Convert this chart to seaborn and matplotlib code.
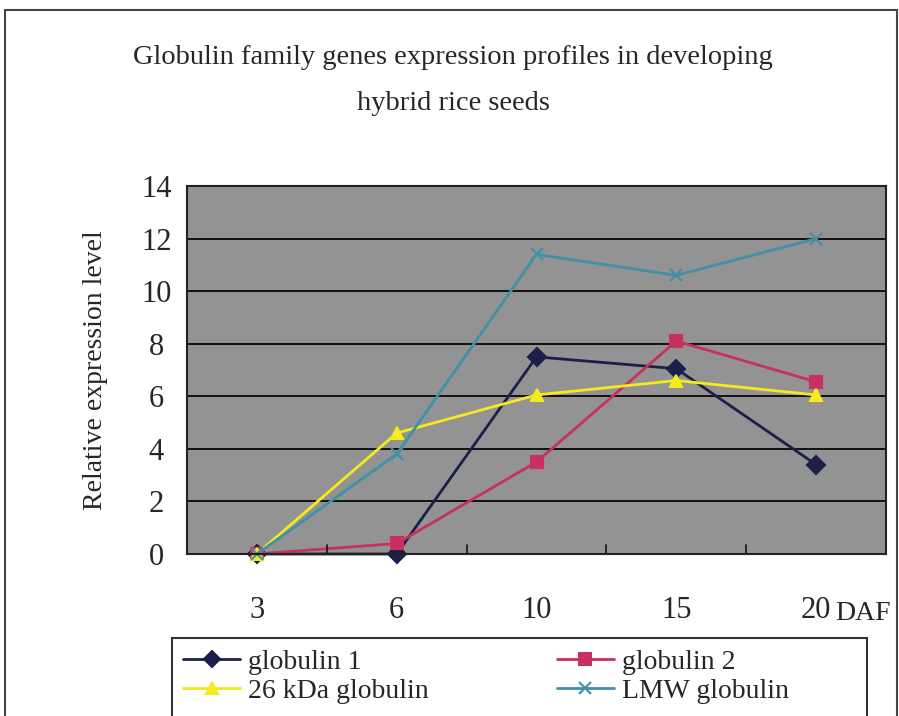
import matplotlib
matplotlib.use("Agg")
import matplotlib.pyplot as plt
import seaborn as sns
import pandas as pd
from matplotlib.lines import Line2D
from matplotlib.patches import Rectangle

# Sampling days (days after flowering)
days = ["3", "6", "10", "15", "20"]

# Relative expression levels per gene
globulin_1 = [0.0, 0.0, 7.5, 7.05, 3.4]
globulin_2 = [0.0, 0.4, 3.5, 8.1, 6.55]
kda26_globulin = [0.0, 4.6, 6.05, 6.6, 6.05]
lmw_globulin = [0.0, 3.8, 11.4, 10.6, 12.0]

series_names = ["globulin 1", "globulin 2", "26 kDa globulin", "LMW globulin"]
series_values = [globulin_1, globulin_2, kda26_globulin, lmw_globulin]
series_colors = ["#1b1f4a", "#c8315f", "#f4ea1c", "#3f90a8"]
series_markers = ["D", "s", "^", "x"]
y_ticks = [0, 2, 4, 6, 8, 10, 12, 14]

sns.set_theme(style="white")
plt.rcParams["font.family"] = ["Liberation Serif", "DejaVu Serif"]

W, H = 899, 716
fig = plt.figure(figsize=(W / 100, H / 100), dpi=100)
ax = fig.add_axes([187 / W, 1 - 554 / H, (886 - 187) / W, (554 - 186) / H])
ax.set_facecolor("#939393")

for name, vals, c, m in zip(series_names, series_values, series_colors, series_markers):
    df = pd.DataFrame({"DAF": days, "level": vals})
    sns.lineplot(data=df, x="DAF", y="level", color=c, marker=m,
                 markersize=9, markeredgecolor=c, markeredgewidth=1.5,
                 linewidth=2.0, sort=False, ax=ax, clip_on=False)

ax.set_xlim(-0.5, 4.5)
ax.set_ylim(0, 14)
ax.set_yticks(y_ticks)
ax.yaxis.grid(True, color="#111111", linewidth=1.4)
ax.set_axisbelow(True)
ax.set_xticks(range(len(days)))
ax.set_xticklabels(days)
ax.tick_params(axis="x", length=0, pad=30, labelsize=22)
ax.tick_params(axis="y", length=0, pad=22, labelsize=22)
for lbl in ax.get_yticklabels():
    lbl.set_horizontalalignment("center")
ax.set_xlabel("")
ax.set_ylabel("Relative expression level", fontsize=20, labelpad=24)

# category boundary ticks along the bottom edge
for b in [0.5, 1.5, 2.5, 3.5]:
    ax.plot([b, b], [0, 0.35], color="#111111", linewidth=1.2)

for s in ax.spines.values():
    s.set_visible(True)
    s.set_color("#222222")
    s.set_linewidth(1.5)

fig.text(835 / W, 1 - 614 / H, "DAF", fontsize=20, ha="left", va="center")

fig.text(453 / W, 1 - 58 / H,
         "Globulin family genes expression profiles in developing",
         fontsize=20.5, ha="center", va="center")
fig.text(453 / W, 1 - 103 / H, "hybrid rice seeds",
         fontsize=20.5, ha="center", va="center")

# outer chart border
fig.patches.append(Rectangle((5 / W, -0.01), 892 / W, 1 - 10 / H + 0.01,
                             transform=fig.transFigure, fill=False,
                             edgecolor="#444444", linewidth=1.5))

# legend box
fig.patches.append(Rectangle((172 / W, -0.01), (867 - 172) / W, 1 - 638 / H + 0.01,
                             transform=fig.transFigure, fill=False,
                             edgecolor="#333333", linewidth=1.5))

handles = [Line2D([0], [0], color=c, marker=m, linewidth=2, markersize=8,
                  markeredgecolor=c, markeredgewidth=1.5)
           for c, m in zip(series_colors, series_markers)]
order = [0, 2, 1, 3]
leg = fig.legend([handles[i] for i in order], [series_names[i] for i in order],
                 ncol=2, loc="upper left",
                 bbox_to_anchor=(172 / W, 1 - 638 / H),
                 frameon=False, fontsize=20,
                 handlelength=2.05, handletextpad=0.3, columnspacing=4.6,
                 labelspacing=0.15, borderpad=0.4, borderaxespad=0)

fig.savefig("out.png", dpi=100, facecolor="white")
